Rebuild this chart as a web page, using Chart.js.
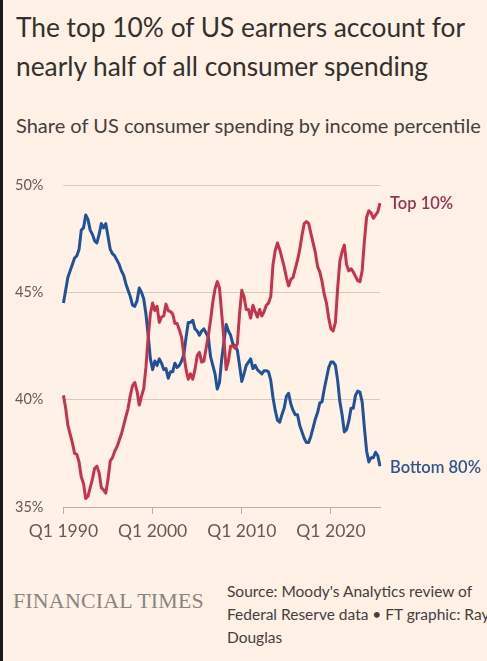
<!DOCTYPE html>
<html>
<head>
<meta charset="utf-8">
<script src="https://cdn.jsdelivr.net/npm/chart.js@4/dist/chart.umd.min.js"></script>
<style>
  html, body { margin: 0; padding: 0; }
  body { width: 487px; height: 661px; background: #FFF1E5; position: relative; overflow: hidden; font-family: "Lato", "Open Sans", sans-serif; }
  .edge { position: absolute; left: 0; top: 0; width: 3px; height: 661px; background: #1b1b1b; }
  .title { position: absolute; left: 16px; top: 8px; font-size: 26.3px; line-height: 39px; color: #33302E; white-space: nowrap; }
  .sub { position: absolute; left: 16px; top: 113px; font-size: 20px; color: #45403d; white-space: nowrap; }
  .logo { position: absolute; left: 13px; top: 588px; font-family: "Liberation Serif", "DejaVu Serif", serif; font-size: 21.9px; color: #8a8480; white-space: nowrap; letter-spacing: 0.2px; }
  .src { position: absolute; left: 227px; top: 580px; font-size: 15.5px; line-height: 23px; color: #45403d; white-space: nowrap; }
  .wrap { position: absolute; left: 0; top: 162px; width: 487px; height: 387px; }
  canvas { display: block; }
</style>
</head>
<body>
<div class="edge"></div>
<div class="title">The top 10% of US earners account for<br>nearly half of all consumer spending</div>
<div class="sub">Share of US consumer spending by income percentile</div>
<div class="wrap"><canvas id="c" width="487" height="387"></canvas></div>
<div class="logo">FINANCIAL TIMES</div>
<div class="src">Source: Moody's Analytics review of<br>Federal Reserve data &bull; FT graphic: Ray<br>Douglas</div>
<script>
// Quarterly labels, Q1 1990 to Q3 2025
const firstYear = 1990;
const quarters = [];
for (let i = 0; i < 143; i++) {
  quarters.push('Q' + (i % 4 + 1) + ' ' + (firstYear + Math.floor(i / 4)));
}
const tickLabels = ['Q1 1990', 'Q1 2000', 'Q1 2010', 'Q1 2020'];
const yTicks = [35, 40, 45, 50];

const top10 = [
  40.2, 39.6, 38.8, 38.4, 38.0, 37.5, 37.45, 37.1, 36.4, 36.1,
  35.4, 35.5, 35.9, 36.3, 36.8, 36.9, 36.6, 35.9, 35.8, 35.65,
  36.3, 37.15, 37.3, 37.6, 37.8, 38.1, 38.4, 38.8, 39.2, 39.6,
  40.2, 40.65, 40.8, 40.4, 39.75, 40.15, 40.5, 41.5, 42.9, 44.0,
  44.5, 44.15, 44.35, 43.6, 43.85, 43.9, 44.45, 44.15, 44.1, 44.0,
  43.55, 43.55, 43.25, 42.9, 42.1, 41.4, 40.95, 41.2, 40.95, 41.4,
  42.05, 42.2, 41.75, 41.8, 42.4, 43.0, 43.7, 44.55, 45.15, 45.5,
  45.2, 44.0, 42.8, 41.4, 41.8, 42.5, 42.5, 42.4, 42.6, 44.0,
  45.1, 44.8, 44.2, 44.2, 43.8, 44.4, 44.1, 43.85, 44.2, 43.9,
  44.1, 44.4, 44.5, 44.8, 46.3, 46.95, 47.3, 47.0, 46.6, 46.2,
  45.7, 45.3, 45.6, 45.7, 46.1, 46.5, 47.0, 47.65, 48.2, 48.3,
  48.2, 47.75, 47.3, 46.85, 46.2, 45.95, 45.5, 44.9, 44.5, 43.8,
  43.3, 43.2, 43.6, 45.2, 46.45, 46.9, 47.2, 46.3, 46.0, 46.1,
  45.95, 45.75, 45.55, 45.5, 46.0, 47.4, 48.5, 48.8, 48.7, 48.45,
  48.6, 48.75, 49.15
];
const bottom80 = [
  44.5, 45.1, 45.7, 46.0, 46.3, 46.6, 46.7, 47.0, 47.9, 48.0,
  48.6, 48.4, 47.9, 47.7, 47.4, 47.3, 47.7, 48.2, 48.0, 48.2,
  47.6, 47.0, 46.8, 46.7, 46.5, 46.3, 46.0, 45.8, 45.4, 45.1,
  44.8, 44.4, 44.35, 44.6, 45.2, 45.0, 44.7, 44.0, 43.0, 41.9,
  41.4, 41.8, 41.6, 41.9, 41.7, 41.4, 41.45, 41.0, 41.3, 41.3,
  41.7, 41.5, 41.6, 41.8, 42.1, 42.9, 43.6, 43.6, 43.7, 43.3,
  43.2, 43.0, 43.2, 43.3, 43.1, 42.9, 42.0, 41.6, 41.2, 40.5,
  40.8, 41.9, 42.7, 43.5, 43.2, 43.0, 42.6, 42.5, 42.3, 41.6,
  40.85, 41.2, 41.6, 41.75, 41.9, 41.45, 41.6, 41.4, 41.3, 41.2,
  41.35, 41.35, 41.3, 40.9, 40.1, 39.5, 39.05, 38.95, 39.3, 39.6,
  40.15, 40.3, 39.8, 39.5, 39.3, 39.3, 38.8, 38.5, 38.2, 38.0,
  38.0, 38.3, 38.7, 39.1, 39.4, 39.85, 39.9, 40.5, 41.0, 41.5,
  41.75, 41.75, 41.6, 40.9, 39.9, 39.3, 38.5, 38.6, 39.0, 39.6,
  39.6, 40.2, 40.4, 40.35, 39.9, 38.7, 37.6, 37.1, 37.3, 37.3,
  37.55, 37.4, 36.9
];
const seriesNames = ['Top 10%', 'Bottom 80%'];
const lineColors = ['#c4344a', '#1f5298'];
const labelColors = ['#9a3350', '#2d568f'];

const endLabels = {
  id: 'endLabels',
  afterDatasetsDraw(chart) {
    const ctx = chart.ctx;
    ctx.save();
    ctx.font = '600 16.5px Lato, "Open Sans", sans-serif';
    ctx.textBaseline = 'middle';
    ctx.textAlign = 'left';
    chart.data.datasets.forEach((ds, i) => {
      const meta = chart.getDatasetMeta(i);
      const last = meta.data[meta.data.length - 1];
      ctx.fillStyle = labelColors[i];
      ctx.fillText(ds.label, last.x + 10, last.y + (i === 0 ? 0 : 1));
    });
    ctx.restore();
  }
};

new Chart(document.getElementById('c'), {
  type: 'line',
  data: {
    labels: quarters,
    datasets: [
      { label: seriesNames[0], data: top10, borderColor: lineColors[0], borderWidth: 3, pointRadius: 0, tension: 0, borderJoinStyle: 'round' },
      { label: seriesNames[1], data: bottom80, borderColor: lineColors[1], borderWidth: 3, pointRadius: 0, tension: 0, borderJoinStyle: 'round' }
    ]
  },
  options: {
    responsive: false,
    animation: false,
    events: [],
    layout: { padding: { left: 15, right: 107, top: 23, bottom: 0 } },
    plugins: { legend: { display: false }, tooltip: { enabled: false } },
    scales: {
      x: {
        type: 'category',
        offset: false,
        border: { display: true, color: '#b8aea6', width: 1 },
        grid: { drawOnChartArea: false, drawTicks: true, tickLength: 7, color: '#b8aea6' },
        ticks: {
          autoSkip: false, maxRotation: 0, minRotation: 0, padding: 7,
          color: '#625c58',
          font: { family: 'Lato, "Open Sans", sans-serif', size: 17.5 },
          callback: function (v, i) {
            const l = this.getLabelForValue(v);
            return tickLabels.includes(l) ? l : null;
          }
        }
      },
      y: {
        min: 35, max: 50,
        afterBuildTicks: (s) => { s.ticks = yTicks.map(v => ({ value: v })); },
        border: { display: false },
        grid: {
          drawTicks: false,
          color: (c) => (c.tick && c.tick.value === 35) ? 'rgba(0,0,0,0)' : '#d6cbc1',
          lineWidth: 1
        },
        ticks: {
          padding: 10,
          crossAlign: 'far',
          color: '#625c58',
          font: { family: 'Lato, "Open Sans", sans-serif', size: 14.5 },
          callback: (v) => v + '%'
        }
      }
    }
  },
  plugins: [endLabels]
});
</script>
</body>
</html>
